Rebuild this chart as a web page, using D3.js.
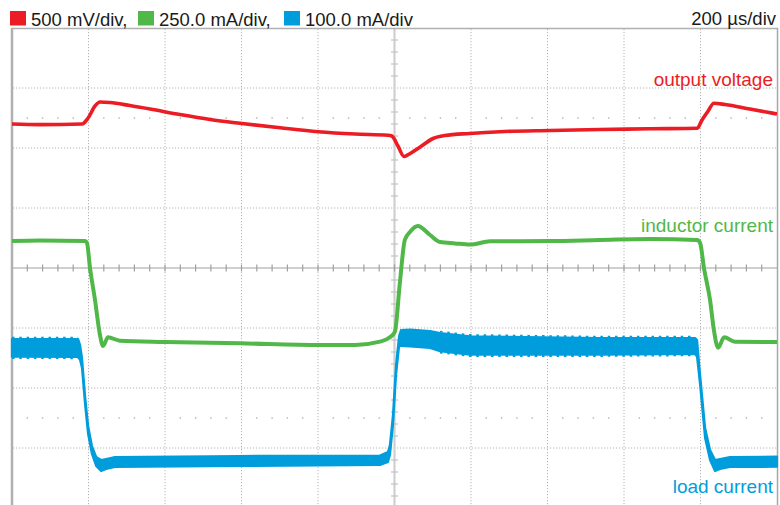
<!DOCTYPE html>
<html><head><meta charset="utf-8">
<script src="https://cdn.jsdelivr.net/npm/d3@7"></script>
<style>html,body{margin:0;padding:0;background:#fff;}svg{display:block;}</style>
</head><body>
<svg id="c" width="780" height="505"></svg>
<script>
// time in µs (200 µs/div), vertical values in screen divisions (0 = centre line)
const legendItems = ["500 mV/div,", "250.0 mA/div,", "100.0 mA/div"];
const timebase = "200 µs/div";
const traceLabels = ["output voltage", "inductor current", "load current"];

const vOutT = [0,73,183,199,217,230,256,308,361,439,518,596,701,800,897,983,993,1009,1025,1041,1067,1101,1132,1197,1276,1407,1537,1668,1791,1804,1820,1835,1864,1929,2000];
const vOut  = [2.40,2.39,2.40,2.50,2.70,2.767,2.758,2.708,2.65,2.558,2.475,2.412,2.337,2.272,2.233,2.212,2.20,2.033,1.858,1.908,2.017,2.158,2.208,2.242,2.272,2.292,2.308,2.32,2.328,2.467,2.617,2.745,2.725,2.65,2.567];

const iLT = [0,73,191,196,204,217,230,238,251,282,400,596,805,897,962,988,1001,1014,1027,1041,1061,1093,1119,1158,1197,1250,1407,1537,1668,1791,1799,1809,1825,1835,1846,1862,1890,2000];
const iL  = [0.45,0.46,0.45,0.417,0.0,-0.533,-1.117,-1.30,-1.155,-1.212,-1.233,-1.255,-1.283,-1.283,-1.228,-1.155,-1.062,-0.25,0.467,0.605,0.70,0.55,0.433,0.41,0.39,0.445,0.45,0.467,0.483,0.467,0.417,0.0,-0.533,-1.033,-1.328,-1.155,-1.228,-1.233];

const iLoadT  = [0,173,178,183,191,199,209,220,233,246,269,596,962,983,988,996,1004,1012,1017,1041,1093,1119,1197,1537,1786,1791,1799,1812,1825,1838,1851,1877,2000];
const iLoadHi = [-1.183,-1.183,-1.283,-1.50,-2.133,-2.633,-2.967,-3.15,-3.20,-3.183,-3.15,-3.133,-3.125,-3.067,-2.95,-2.45,-1.617,-1.133,-1.033,-1.025,-1.05,-1.083,-1.138,-1.167,-1.167,-1.20,-1.783,-2.667,-3.033,-3.20,-3.183,-3.15,-3.145];
const iLoadLo = [-1.478,-1.483,-1.533,-1.667,-2.267,-2.767,-3.10,-3.30,-3.383,-3.35,-3.317,-3.30,-3.283,-3.233,-3.117,-2.617,-1.783,-1.30,-1.30,-1.305,-1.333,-1.388,-1.445,-1.445,-1.433,-1.483,-1.95,-2.833,-3.20,-3.383,-3.35,-3.317,-3.312];

const RED = "#ec1c24", GREEN = "#50b848", BLUE = "#009ddc";
const colors = [RED, GREEN, BLUE];

const svg = d3.select("#c");
const x = d3.scaleLinear().domain([0, 2000]).range([12, 777]);
const y = d3.scaleLinear().domain([-4, 4]).range([508, 28]);

// grid
const g = svg.append("g");
const xDivs = d3.range(200, 2000, 200);
const yDivs = d3.range(-3, 4, 1);
g.selectAll("line.vg").data(xDivs.filter(d => d !== 1000)).join("line")
  .attr("x1", d => x(d)).attr("x2", d => x(d)).attr("y1", 29).attr("y2", 505)
  .attr("stroke", "#b4b4b4").attr("stroke-width", 1).attr("stroke-dasharray", "1.2,1.8");
g.selectAll("line.hg").data(yDivs.filter(d => d !== 0)).join("line")
  .attr("x1", 13).attr("x2", 777).attr("y1", d => y(d)).attr("y2", d => y(d))
  .attr("stroke", "#b4b4b4").attr("stroke-width", 1).attr("stroke-dasharray", "1.2,1.8");
// sub-division dot rows
[2.5, -2.5].forEach(r => {
  g.selectAll(null).data(d3.range(40, 2000, 40).filter(d => d % 200 !== 0)).join("rect")
    .attr("x", d => x(d) - 0.7).attr("y", y(r) - 0.7).attr("width", 1.4).attr("height", 1.4)
    .attr("fill", "#b0b0b0");
});
// centre lines
g.append("line").attr("x1", x(1000)).attr("x2", x(1000)).attr("y1", 29).attr("y2", 505)
  .attr("stroke", "#cfcfcf").attr("stroke-width", 2.2);
g.append("line").attr("x1", 13).attr("x2", 777).attr("y1", y(0)).attr("y2", y(0))
  .attr("stroke", "#a0a0a0").attr("stroke-width", 1.2);
g.selectAll(null).data(d3.range(40, 2000, 40)).join("line")
  .attr("x1", d => x(d)).attr("x2", d => x(d)).attr("y1", y(0) - 3.5).attr("y2", y(0) + 3.5)
  .attr("stroke", "#a0a0a0").attr("stroke-width", 1.2);
g.selectAll(null).data(d3.range(-4, 4.01, 0.2).filter(d => Math.abs(d - Math.round(d)) > 0.01)).join("line")
  .attr("x1", x(1000) - 3.5).attr("x2", x(1000) + 3.5).attr("y1", d => y(d)).attr("y2", d => y(d))
  .attr("stroke", "#c4c4c4").attr("stroke-width", 1.2);
// frame
g.append("line").attr("x1", 12).attr("x2", 12).attr("y1", 28).attr("y2", 505).attr("stroke", "#b0b0b0").attr("stroke-width", 2.5);
g.append("line").attr("x1", 11).attr("x2", 778).attr("y1", 28.5).attr("y2", 28.5).attr("stroke", "#b0b0b0").attr("stroke-width", 1.5);
g.append("line").attr("x1", 777.5).attr("x2", 777.5).attr("y1", 28).attr("y2", 505).attr("stroke", "#a8a8a8").attr("stroke-width", 1.5);

// traces
const blueData = iLoadT.map((t, i) => ({t, hi: iLoadHi[i], lo: iLoadLo[i]}));
svg.append("path").datum(blueData)
  .attr("d", d3.area().x(d => x(d.t)).y0(d => y(d.lo)).y1(d => y(d.hi)).curve(d3.curveLinear))
  .attr("fill", BLUE).attr("stroke", BLUE).attr("stroke-width", 2.2).attr("stroke-linejoin", "round");
// subtle ripple texture on the edges of the high-current plateaus
const plateaus = [[0, 173], [1119, 1786]];
plateaus.forEach(([a, b]) => {
  const seg = blueData.filter(d => d.t >= a && d.t <= b);
  ["hi", "lo"].forEach((k, j) => {
    svg.append("path").datum(seg)
      .attr("d", d3.line().x(d => x(d.t)).y(d => y(d[k]) + (j ? 1.3 : -1.3)))
      .attr("fill", "none").attr("stroke", BLUE).attr("stroke-width", 1.8)
      .attr("stroke-dasharray", "2.5,4.8");
  });
});

const lineGen = d3.line().x(d => x(d[0])).y(d => y(d[1])).curve(d3.curveMonotoneX);
svg.append("path").datum(iLT.map((t, i) => [t, iL[i]]))
  .attr("d", lineGen).attr("fill", "none").attr("stroke", GREEN).attr("stroke-width", 4).attr("stroke-linejoin", "round");
svg.append("path").datum(vOutT.map((t, i) => [t, vOut[i]]))
  .attr("d", lineGen).attr("fill", "none").attr("stroke", RED).attr("stroke-width", 3.6).attr("stroke-linejoin", "round");

// legend
const font = "'Liberation Sans', Arial, Helvetica, sans-serif";
const legX = [10, 138, 284];
legendItems.forEach((s, i) => {
  svg.append("rect").attr("x", legX[i]).attr("y", 11).attr("width", 16).attr("height", 14.5).attr("fill", colors[i]);
  svg.append("text").attr("x", legX[i] + 21).attr("y", 26).attr("font-family", font).attr("font-size", 18.5)
    .attr("fill", "#1a1a1a").text(s);
});
svg.append("text").attr("x", 776).attr("y", 25).attr("text-anchor", "end").attr("font-family", font)
  .attr("font-size", 18.5).attr("fill", "#1a1a1a").text(timebase);

// trace labels
const labY = [86, 232, 493];
traceLabels.forEach((s, i) => {
  svg.append("text").attr("x", 773).attr("y", labY[i]).attr("text-anchor", "end").attr("font-family", font)
    .attr("font-size", 19).attr("fill", colors[i]).text(s);
});
</script>
</body></html>
